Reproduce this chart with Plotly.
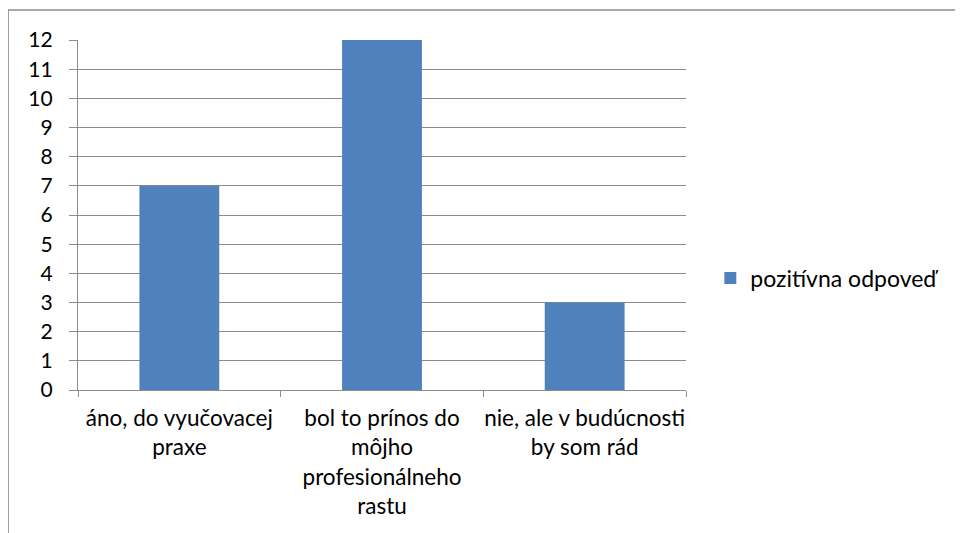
import plotly.graph_objects as go

categories = ["áno, do vyučovacej<br>praxe",
              "bol to prínos do<br>môjho<br>profesionálneho<br>rastu",
              "nie, ale v budúcnosti<br>by som rád"]
values = [7, 12, 3]
series_name = "pozitívna odpoveď"
y_ticks = list(range(0, 13))

FONT = "Lato"
GRID = "#8c8c8c"

fig = go.Figure()
fig.add_trace(go.Bar(x=categories, y=values, name=series_name,
                     marker=dict(color="#4F81BD", line=dict(width=0)),
                     showlegend=True))

fig.update_layout(
    width=955, height=525,
    margin=dict(l=70, r=277, t=32, b=143),
    paper_bgcolor="white", plot_bgcolor="white",
    font=dict(family=FONT, size=22, color="black"),
    bargap=0.606,
    showlegend=True,
    legend=dict(x=1.04, y=0.32, xanchor="left", yanchor="middle",
                font=dict(size=23), itemwidth=30,
                bgcolor="rgba(0,0,0,0)"),
    xaxis=dict(showline=True, linecolor=GRID, linewidth=1.3,
               ticks="outside", ticklen=6, tickcolor=GRID, tickwidth=1.3,
               tickson="boundaries", showgrid=False, tickangle=0,
               automargin=False, ticklabelstandoff=8,
               tickfont=dict(size=22.5, family=FONT)),
    yaxis=dict(range=[0, 12], tickvals=y_ticks, showline=True, linecolor=GRID,
               linewidth=1.3, showgrid=True, gridcolor=GRID, gridwidth=1.3,
               ticks="outside", ticklen=8, tickcolor=GRID, tickwidth=1.3,
               ticklabelstandoff=12, zeroline=False, automargin=False,
               tickfont=dict(size=21, family=FONT)),
    shapes=[dict(type="rect", xref="paper", yref="paper",
                 x0=-0.115, x1=1.6, y0=-0.6, y1=1.0857,
                 line=dict(color="#8c8c8c", width=1.5), fillcolor="rgba(0,0,0,0)",
                 layer="below")],
)

fig.write_html("out.html")
